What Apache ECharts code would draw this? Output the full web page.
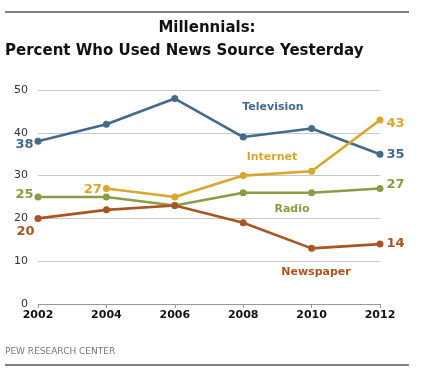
<!DOCTYPE html>
<html><head><meta charset="utf-8">
<script src="https://cdn.jsdelivr.net/npm/echarts@6/dist/echarts.min.js"></script>
<style>html,body{margin:0;padding:0;background:#fff}#c{width:445px;height:374px}</style>
</head><body><div id="c"></div>
<script>
const years = ['2002','2004','2006','2008','2010','2012'];
const television = [38, 42, 48, 39, 41, 35];
const internet = [null, 27, 25, 30, 31, 43];
const radio = [25, 25, 23, 26, 26, 27];
const newspaper = [20, 22, 23, 19, 13, 14];
const yTicks = [0, 10, 20, 30, 40, 50];

const C = {tv:'#45698a', net:'#d8a72b', radio:'#8b9b46', news:'#a85522'};
const F = 'DejaVu Sans, Verdana, sans-serif';

function lbl(color, pos, off) {
  return {show:true, position:pos, offset:off||[0,0], color:color, fontFamily:F, fontWeight:'bold', fontSize:13,
    formatter:p=>p.value};
}
function build(arr, color, labels) {
  return arr.map((v,i)=>{
    if (v===null) return null;
    const o={value:v};
    if (labels[i]) o.label=labels[i];
    return o;
  });
}
const chart = echarts.init(document.getElementById('c'));
const lineS = (name, arr, color, labels) => ({
  name, type:'line', data:build(arr,color,labels), color,
  symbol:'circle', symbolSize:7, lineStyle:{width:2.6, color}, itemStyle:{color},
  label:{show:false}, emphasis:{disabled:true}, animation:false, z:3
});
chart.setOption({
  animation:false,
  grid:{left:38, right:65, top:90, bottom:70},
  xAxis:{type:'category', data:years, boundaryGap:false,
    axisLine:{lineStyle:{color:'#999', width:1}}, axisTick:{show:true, alignWithLabel:true, length:4, lineStyle:{color:'#999'}},
    axisLabel:{color:'#111', fontFamily:F, fontWeight:'bold', fontSize:11, margin:6}},
  yAxis:{type:'value', min:0, max:50, interval:10,
    axisLine:{show:false}, axisTick:{show:false},
    splitLine:{lineStyle:{color:'#c8c8c8', width:1}},
    axisLabel:{color:'#333', fontFamily:F, fontSize:11, margin:10, formatter:v=>yTicks.includes(v)?String(v):''}},
  series:[
    lineS('Television', television, C.tv, {0:lbl(C.tv,'left',[4,3]), 5:lbl(C.tv,'right',[-2,0])}),
    lineS('Internet', internet, C.net, {1:lbl(C.net,'left',[4,1]), 5:lbl(C.net,'right',[-2,4])}),
    lineS('Radio', radio, C.radio, {0:lbl(C.radio,'left',[4,-2]), 5:lbl(C.radio,'right',[-2,-4])}),
    lineS('Newspaper', newspaper, C.news, {0:lbl(C.news,'left',[5,13]), 5:lbl(C.news,'right',[-2,0])})
  ],
  graphic:[
    {type:'line', shape:{x1:5,y1:12,x2:409,y2:12}, style:{stroke:'#000', lineWidth:1}},
    {type:'line', shape:{x1:5,y1:365,x2:409,y2:365}, style:{stroke:'#000', lineWidth:1}},
    {type:'text', x:207, y:28, style:{text:'Millennials:', font:'bold 15px '+F, fill:'#111', align:'center', verticalAlign:'middle'}},
    {type:'text', x:5, y:51, style:{text:'Percent Who Used News Source Yesterday', font:'bold 15px '+F, fill:'#111', align:'left', verticalAlign:'middle'}},
    {type:'text', x:5, y:352, style:{text:'PEW RESEARCH CENTER', font:'9px '+F, fill:'#777', align:'left', verticalAlign:'middle'}},
    {type:'text', x:273, y:107, style:{text:'Television', font:'bold 11px '+F, fill:C.tv, align:'center', verticalAlign:'middle'}},
    {type:'text', x:272, y:157, style:{text:'Internet', font:'bold 11px '+F, fill:C.net, align:'center', verticalAlign:'middle'}},
    {type:'text', x:292, y:209, style:{text:'Radio', font:'bold 11px '+F, fill:C.radio, align:'center', verticalAlign:'middle'}},
    {type:'text', x:316, y:272, style:{text:'Newspaper', font:'bold 11px '+F, fill:C.news, align:'center', verticalAlign:'middle'}}
  ]
});
</script></body></html>
